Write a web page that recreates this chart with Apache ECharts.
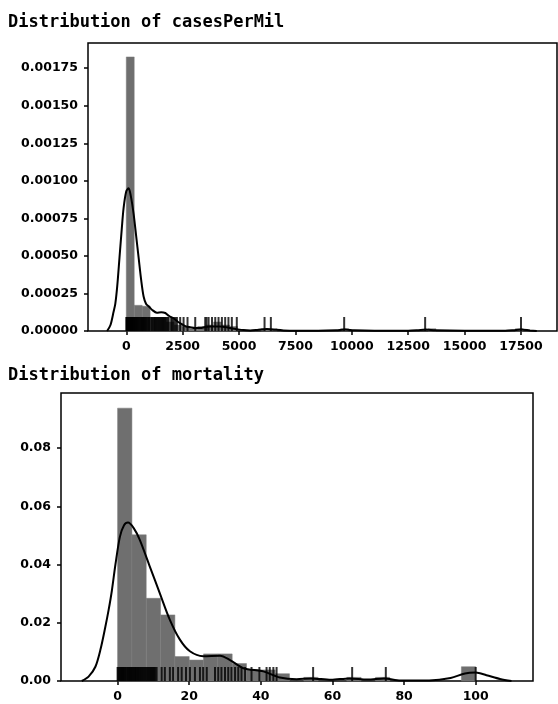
<!DOCTYPE html>
<html>
<head>
<meta charset="utf-8">
<script src="https://cdn.jsdelivr.net/npm/echarts@6/dist/echarts.min.js"></script>
<style>
  html, body { margin: 0; padding: 0; background: #fff; }
  #chart { width: 558px; height: 704px; }
</style>
</head>
<body>
<div id="chart"></div>
<script>
// casesPerMil: histogram (bin left edge + density), kde curve and rug
const casesBinWidth = 352;
const casesBinStart = [0, 352, 704, 1056, 1408, 1760, 2112, 2464, 2816, 3168, 3520, 3872, 4224, 4576, 5984, 6336, 9504, 13376, 17248];
const casesBinDensity = [0.001825, 0.000171, 0.000165, 0.00009, 0.00009, 0.00006, 0.00004, 0.00003, 0.000015, 0.00003, 0.00004, 0.00006, 0.00004, 0.00003, 0.000015, 0.000015, 0.000015, 0.000015, 0.000015];
const casesKde = [
    [-850, 0], [-700, 0.00004], [-560, 0.00013], [-487, 0.00018], [-400, 0.0003], [-300, 0.00049],
    [-200, 0.00068], [-118, 0.00082], [0, 0.00093], [104, 0.00095], [200, 0.0009], [325, 0.00078],
    [440, 0.00063], [546, 0.00049], [660, 0.00034], [768, 0.00023], [880, 0.00018], [990, 0.000165],
    [1150, 0.00014], [1358, 0.000122], [1550, 0.000125], [1728, 0.00012], [1900, 0.0001], [2097, 0.000085],
    [2300, 0.00006], [2466, 0.000045], [2650, 0.00003], [2836, 0.000025], [3050, 0.00002], [3279, 0.00002],
    [3500, 0.000027], [3722, 0.00003], [3950, 0.00003], [4165, 0.00003], [4450, 0.000025], [4700, 0.000017],
    [4904, 0.000012], [5200, 0.000006], [5494, 0.000004], [5800, 0.000007], [6234, 0.000013], [6600, 0.000008],
    [6970, 0.000004], [7500, 0.000002], [8500, 0.000002], [9300, 0.000005], [9700, 0.00001], [10100, 0.000005],
    [11000, 0.000002], [12500, 0.000002], [12900, 0.000005], [13280, 0.00001], [13700, 0.000005], [15000, 0.000002],
    [16800, 0.000002], [17150, 0.000005], [17500, 0.00001], [17900, 0.000004], [18200, 0]
];
const casesRug = [5, 20, 35, 50, 70, 90, 110, 130, 150, 175, 200, 225, 250, 280, 310, 340, 370, 400, 435, 470,
    505, 540, 580, 620, 660, 700, 740, 780, 820, 860, 900, 950, 1000, 1040, 1120, 1160, 1230, 1280, 1330, 1380,
    1430, 1480, 1530, 1580, 1630, 1680, 1730, 1780, 1830, 1880, 1990, 2040, 2100, 2170, 2245, 2390, 2540, 2715,
    3057, 3500, 3560, 3650, 3800, 3945, 4090, 4240, 4385, 4530, 4680, 4900, 6130, 6410, 9660, 13250, 17500];
const casesXTicks = [0, 2500, 5000, 7500, 10000, 12500, 15000, 17500];
const casesYTicks = [0, 0.00025, 0.0005, 0.00075, 0.001, 0.00125, 0.0015, 0.00175];

// mortality
const mortBinWidth = 4;
const mortBinStart = [0, 4, 8, 12, 16, 20, 24, 28, 32, 36, 40, 44, 52, 64, 72, 96];
const mortBinDensity = [0.0937, 0.0502, 0.0284, 0.0227, 0.0084, 0.0072, 0.0093, 0.0093, 0.006, 0.0038, 0.0038, 0.0025, 0.00125, 0.00125, 0.00125, 0.0049];
const mortKde = [
    [-10, 0], [-8.1, 0.0015], [-6.2, 0.0049], [-4.8, 0.0107], [-3.4, 0.0187], [-2.5, 0.0244], [-1.6, 0.031],
    [-0.6, 0.04], [0.64, 0.0495], [1.8, 0.0535], [2.9, 0.0544], [4.5, 0.0525], [6.2, 0.0485], [9.0, 0.0393], [11.8, 0.0301],
    [14.6, 0.021], [17.4, 0.0142], [20.2, 0.0102], [23.9, 0.0085], [28.6, 0.0087], [31.4, 0.0072], [35.1, 0.0044],
    [40.7, 0.0033], [45.3, 0.0012], [50, 0.0006], [54, 0.0009], [59.6, 0.0004], [64.7, 0.0009], [69.8, 0.0005],
    [74.4, 0.0009], [79, 0.0002], [87, 0.0002], [93, 0.001], [97, 0.0026], [100, 0.0029], [103, 0.002],
    [106.8, 0.0007], [110, 0]
];
const mortRug = [0, 0.2, 0.5, 0.7, 1.0, 1.2, 1.5, 1.7, 2.0, 2.2, 2.5, 2.8, 3.0, 3.3, 3.5, 3.8, 4.0, 4.3, 4.6, 4.9,
    5.1, 5.4, 5.7, 6.0, 6.3, 6.6, 6.9, 7.2, 7.5, 7.8, 8.1, 8.4, 8.7, 9.0, 9.3, 9.6, 9.9, 10.2, 10.5, 10.9,
    12.3, 13.2, 14.6, 15.5, 16.9, 17.9, 19.1, 20.2, 21.6, 23.0, 23.9, 24.9, 27.2, 28.1, 29.0, 30.0, 30.9, 31.8,
    32.8, 33.7, 34.6, 35.6, 37.4, 39.6, 41.6, 42.5, 43.5, 44.4, 54.6, 65.5, 74.9, 100];
const mortXTicks = [0, 20, 40, 60, 80, 100];
const mortYTicks = [0, 0.02, 0.04, 0.06, 0.08];

const labelFont = { color: '#000', fontFamily: 'DejaVu Sans', fontWeight: 'bold', fontSize: 12.5 };

function histData(starts, dens, width) {
    return starts.map((s, i) => [s, s + width, dens[i]]);
}

function renderBar(params, api) {
    const p0 = api.coord([api.value(0), api.value(2)]);
    const p1 = api.coord([api.value(1), 0]);
    return {
        type: 'rect',
        shape: { x: p0[0], y: p0[1], width: p1[0] - p0[0], height: p1[1] - p0[1] },
        style: { fill: '#6f6f6f', stroke: '#7a7a7a', lineWidth: 0.5 }
    };
}

function xAxisOf(idx, min, max, ticks) {
    return {
        type: 'value', gridIndex: idx, min: min, max: max,
        axisLine: { show: false, onZero: false },
        splitLine: { show: false },
        axisTick: { show: true, length: 4, lineStyle: { color: '#000', width: 1.5 }, customValues: ticks },
        axisLabel: Object.assign({ margin: 9, customValues: ticks, formatter: v => String(v) }, labelFont)
    };
}

function yAxisOf(idx, max, ticks, digits) {
    return {
        type: 'value', gridIndex: idx, min: 0, max: max,
        axisLine: { show: false, onZero: false },
        splitLine: { show: false },
        axisTick: { show: true, length: 4, lineStyle: { color: '#000', width: 1.5 }, customValues: ticks },
        axisLabel: Object.assign({ margin: 10, customValues: ticks, formatter: v => v.toFixed(digits) }, labelFont)
    };
}

const titleFont = { fontFamily: 'DejaVu Sans Mono', fontWeight: 'bold', fontSize: 17, color: '#000' };

const option = {
    animation: false,
    backgroundColor: '#fff',
    title: [
        { text: 'Distribution of casesPerMil', left: 8, top: 14, padding: 0, textStyle: titleFont },
        { text: 'Distribution of mortality', left: 8, top: 367, padding: 0, textStyle: titleFont }
    ],
    grid: [
        { left: 88, top: 43, right: 1, height: 288, show: true, borderColor: '#000', borderWidth: 1.5, backgroundColor: '#fff' },
        { left: 61, top: 393, right: 25, height: 288, show: true, borderColor: '#000', borderWidth: 1.5, backgroundColor: '#fff' }
    ],
    xAxis: [
        xAxisOf(0, -1697, 19096, casesXTicks),
        xAxisOf(1, -15.8, 116, mortXTicks)
    ],
    yAxis: [
        yAxisOf(0, 0.001918, casesYTicks, 5),
        yAxisOf(1, 0.0989, mortYTicks, 2)
    ],
    series: [
        { type: 'custom', xAxisIndex: 0, yAxisIndex: 0, renderItem: renderBar, encode: { x: [0, 1], y: 2 },
          data: histData(casesBinStart, casesBinDensity, casesBinWidth) },
        { type: 'line', xAxisIndex: 0, yAxisIndex: 0, data: casesKde, smooth: 0.3, showSymbol: false,
          lineStyle: { color: '#000', width: 2 } },
        { type: 'scatter', xAxisIndex: 0, yAxisIndex: 0, data: casesRug.map(v => [v, 0]),
          symbol: 'rect', symbolSize: [2, 14], symbolOffset: [0, '-50%'], itemStyle: { color: '#000' } },

        { type: 'custom', xAxisIndex: 1, yAxisIndex: 1, renderItem: renderBar, encode: { x: [0, 1], y: 2 },
          data: histData(mortBinStart, mortBinDensity, mortBinWidth) },
        { type: 'line', xAxisIndex: 1, yAxisIndex: 1, data: mortKde, smooth: 0.3, showSymbol: false,
          lineStyle: { color: '#000', width: 2 } },
        { type: 'scatter', xAxisIndex: 1, yAxisIndex: 1, data: mortRug.map(v => [v, 0]),
          symbol: 'rect', symbolSize: [2, 14], symbolOffset: [0, '-50%'], itemStyle: { color: '#000' } }
    ]
};

const myChart = echarts.init(document.getElementById('chart'));
myChart.setOption(option);
</script>
</body>
</html>
